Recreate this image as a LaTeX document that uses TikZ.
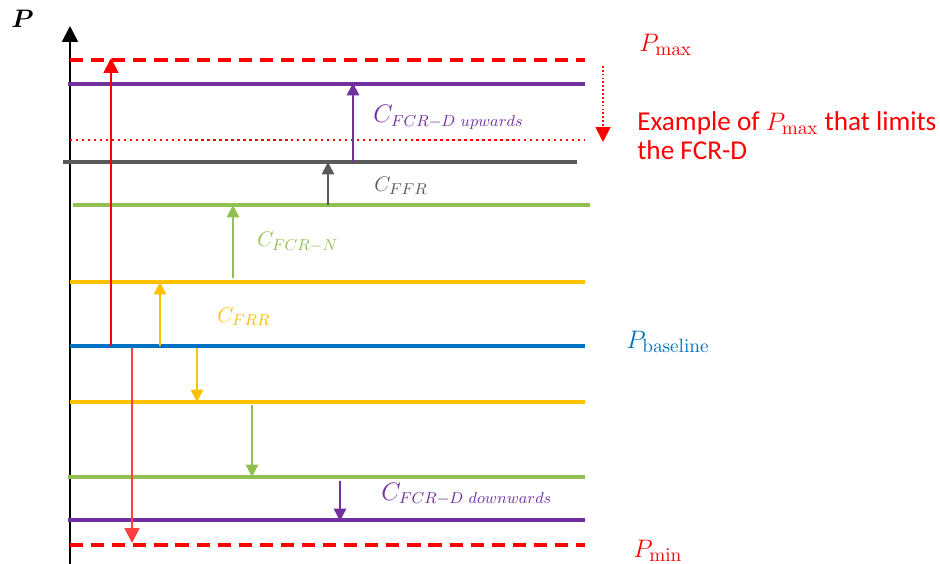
\documentclass[tikz,border=0pt]{standalone}
\usepackage{amsmath}
\usepackage[no-math]{fontspec}
\setmainfont{Carlito}
\usetikzlibrary{arrows.meta}

\definecolor{fcrd}{HTML}{7030A0}
\definecolor{fcrn}{HTML}{92C050}
\definecolor{frr}{HTML}{FFC000}
\definecolor{ffr}{HTML}{595959}
\definecolor{base}{HTML}{0070C0}

\tikzset{
	level/.style={line width=2pt},
	arr/.style={line width=1pt, -{Triangle[width=7pt,length=7pt]}},
	bigarr/.style={line width=1pt, -{Triangle[width=8.5pt,length=8.5pt]}},
	lbl/.style={anchor=west, inner sep=0pt, font=\fontsize{12.5}{14}\selectfont},
	plbl/.style={anchor=west, inner sep=0pt, font=\fontsize{15}{17}\selectfont}
}

\begin{document}
\begin{tikzpicture}[x=0.02cm, y=-0.02cm]
	
	\useasboundingbox (0,0) rectangle (940,564);
	
	% axis
	\coordinate (o) at (70,564);
	\coordinate (top) at (70,26);
	\draw[line width=1.1pt, -{Triangle[width=9pt,length=9pt]}] (o) -- (top);
	\node[plbl] (p) at (11,19) {$\boldsymbol{P}$};
	
	% levels
	\coordinate (max0) at (70,60);   \coordinate (max1) at (585,60);
	\coordinate (du0) at (68,84);    \coordinate (du1) at (585,84);
	\coordinate (lim0) at (70,140);  \coordinate (lim1) at (585,140);
	\coordinate (ffr0) at (63,162);  \coordinate (ffr1) at (577,162);
	\coordinate (nu0) at (73,205);   \coordinate (nu1) at (590,205);
	\coordinate (ru0) at (70,282);   \coordinate (ru1) at (585,282);
	\coordinate (b0) at (70,346);    \coordinate (b1) at (585,346);
	\coordinate (rd0) at (70,402);   \coordinate (rd1) at (585,402);
	\coordinate (nd0) at (68,477);   \coordinate (nd1) at (585,477);
	\coordinate (dd0) at (68,520);   \coordinate (dd1) at (585,520);
	\coordinate (min0) at (70,545);  \coordinate (min1) at (585,545);
	
	\draw[level, red, dash pattern=on 7.5pt off 4.5pt] (max0) -- (max1);
	\draw[level, fcrd] (du0) -- (du1);
	\draw[line width=1.4pt, red, dash pattern=on 1.4pt off 2pt] (lim0) -- (lim1);
	\draw[level, ffr] (ffr0) -- (ffr1);
	\draw[level, fcrn] (nu0) -- (nu1);
	\draw[level, frr] (ru0) -- (ru1);
	\draw[level, base] (b0) -- (b1);
	\draw[level, frr] (rd0) -- (rd1);
	\draw[level, fcrn] (nd0) -- (nd1);
	\draw[level, fcrd] (dd0) -- (dd1);
	\draw[level, red, dash pattern=on 7.5pt off 4.5pt] (min0) -- (min1);
	
	% arrows
	\coordinate (a1) at (111,346); \coordinate (a1e) at (111,58);
	\coordinate (a2) at (132,348); \coordinate (a2e) at (132,543);
	\coordinate (a3) at (353,162); \coordinate (a3e) at (353,83);
	\coordinate (a4) at (328,205); \coordinate (a4e) at (328,162);
	\coordinate (a5) at (233,278); \coordinate (a5e) at (233,205);
	\coordinate (a6) at (160,346); \coordinate (a6e) at (160,282);
	\coordinate (a7) at (197,348); \coordinate (a7e) at (197,402);
	\coordinate (a8) at (252,405); \coordinate (a8e) at (252,477);
	\coordinate (a9) at (340,481); \coordinate (a9e) at (340,521);
	\coordinate (a10) at (603,66); \coordinate (a10e) at (603,142);
	
	\draw[bigarr, red] (a1) -- (a1e);
	\draw[bigarr, red!75] (a2) -- (a2e);
	\draw[arr, fcrd] (a3) -- (a3e);
	\draw[arr, ffr] (a4) -- (a4e);
	\draw[arr, fcrn] (a5) -- (a5e);
	\draw[arr, frr] (a6) -- (a6e);
	\draw[arr, frr] (a7) -- (a7e);
	\draw[arr, fcrn] (a8) -- (a8e);
	\draw[arr, fcrd] (a9) -- (a9e);
	\draw[line width=1.1pt, red, dash pattern=on 1pt off 1.2pt, -{Triangle[width=8.5pt,length=8.5pt]}] (a10) -- (a10e);
	
	% labels
	\node[plbl, red] (pmax) at (639,45) {$P_{\mathrm{max}}$};
	\node[plbl, red, align=left, font=\fontsize{15.5}{16.5}\selectfont] (ex) at (637,136) {Example of $P_{\mathrm{max}}$ that limits\\the FCR-D};
	\node[lbl, fcrd, font=\fontsize{13.5}{15}\selectfont] (cdu) at (373,117) {$C_{FCR-D\ upwards}$};
	\node[lbl, ffr] (cffr) at (374,186) {$C_{FFR}$};
	\node[lbl, fcrn] (cn) at (257,242) {$C_{FCR-N}$};
	\node[lbl, frr] (cfrr) at (217,317) {$C_{FRR}$};
	\node[plbl, base] (pb) at (626,342) {$P_{\mathrm{baseline}}$};
	\node[lbl, fcrd, font=\fontsize{13.5}{15}\selectfont] (cdd) at (381,494) {$C_{FCR-D\ downwards}$};
	\node[plbl, red] (pmin) at (633,551) {$P_{\mathrm{min}}$};
	
\end{tikzpicture}
\end{document}
